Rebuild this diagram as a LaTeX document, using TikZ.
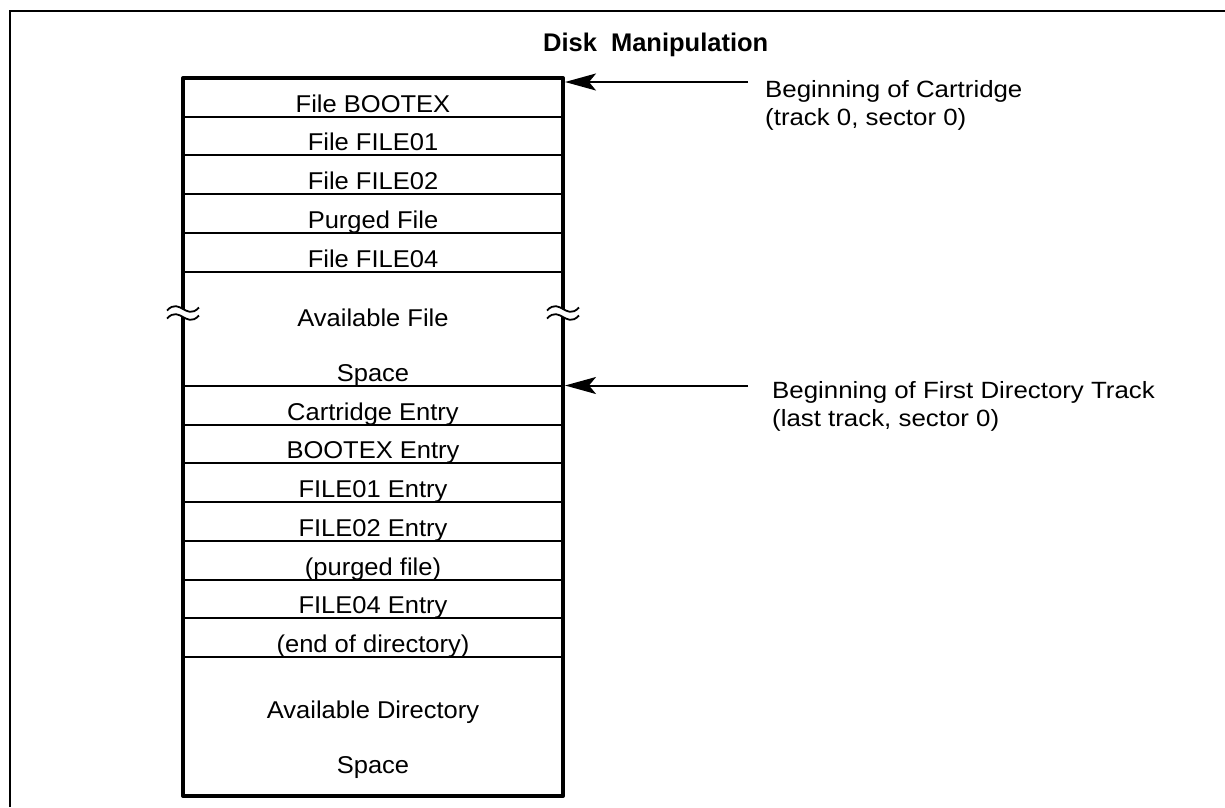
\documentclass[tikz,border=0pt]{standalone}
\usepackage{fontspec}
\setmainfont{Liberation Sans}
\newfontfamily\boxfont[FakeStretch=1.05]{Liberation Sans}
\newfontfamily\lblfont[FakeStretch=1.1]{Liberation Sans}
\usetikzlibrary{arrows.meta}
\begin{document}
\begin{tikzpicture}[x=1pt,y=-1pt,
  rowtxt/.style={anchor=base, font=\boxfont\fontsize{24.3}{28}\selectfont, inner sep=0pt},
  lbl/.style={anchor=base west, font=\lblfont\fontsize{23.5}{28}\selectfont, inner sep=0pt},
  sep/.style={line width=2pt},
  boxline/.style={line width=4pt, line join=round},
  ptr/.style={line width=2pt, -{Stealth[length=31pt,width=17pt,inset=7pt]}},
  frameline/.style={line width=2.5pt},
  tilde/.style={line width=1.8pt}]
\useasboundingbox (0,0) rectangle (1225,807);
\draw[frameline] (10,807) -- (10,11) -- (1225,11);
% title
\node[anchor=base west, font=\bfseries\fontsize{25.5}{28}\selectfont, inner sep=0pt] (title) at (543,51.7) {Disk\hspace{14pt}Manipulation};
% separators
\foreach \y in {116.5,155,194,233,272,386,424.5,463,502,541,579.5,618,657}
  \draw[sep] (183,\y) -- (563,\y);
% box
\draw[boxline] (183,78) rectangle (563,796);
% texts
\node[rowtxt] (r1) at (373,112) {File BOOTEX};
\node[rowtxt] (r2) at (373,150.5) {File FILE01};
\node[rowtxt] (r3) at (373,189.5) {File FILE02};
\node[rowtxt] (r4) at (373,228.5) {Purged File};
\node[rowtxt] (r5) at (373,267.5) {File FILE04};
\node[rowtxt] (af1) at (373,326) {Available File};
\node[rowtxt] (af2) at (373,381.5) {Space};
\node[rowtxt] (r6) at (373,420) {Cartridge Entry};
\node[rowtxt] (r7) at (373,458.5) {BOOTEX Entry};
\node[rowtxt] (r8) at (373,497.5) {FILE01 Entry};
\node[rowtxt] (r9) at (373,536.5) {FILE02 Entry};
\node[rowtxt] (r10) at (373,575) {(purged file)};
\node[rowtxt] (r11) at (373,613.5) {FILE04 Entry};
\node[rowtxt] (r12) at (373,652.5) {(end of directory)};
\node[rowtxt] (ad1) at (373,718.3) {Available Directory};
\node[rowtxt] (ad2) at (373,773.3) {Space};
% break marks
\foreach \cx in {183,563} {
  \fill[white] (\cx-3,309) rectangle (\cx+3,317);
  \foreach \cy in {309,317}
    \draw[tilde] (\cx-16,\cy+1.5) .. controls (\cx-9,\cy-6) and (\cx-4,\cy-2) .. (\cx,\cy)
                 .. controls (\cx+4,\cy+2) and (\cx+9,\cy+6) .. (\cx+16,\cy-1.5);
}
% pointers
\coordinate (p1s) at (748,82);
\coordinate (p1e) at (565,82);
\coordinate (p2s) at (748,385.5);
\coordinate (p2e) at (565,385.5);
\draw[ptr] (p1s) -- (p1e);
\draw[ptr] (p2s) -- (p2e);
% labels
\node[lbl] (l1) at (765,97.3) {Beginning of Cartridge};
\node[lbl] (l1b) at (765,125) {(track 0, sector 0)};
\node[lbl] (l2) at (772,398) {Beginning of First Directory Track};
\node[lbl] (l2b) at (772,426) {(last track, sector 0)};
\end{tikzpicture}
\end{document}
